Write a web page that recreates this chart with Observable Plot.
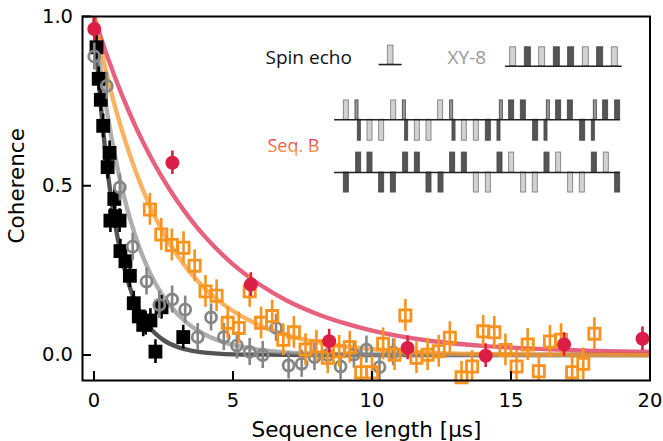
<!DOCTYPE html>
<html><head><meta charset="utf-8">
<script src="https://cdn.jsdelivr.net/npm/d3@7"></script>
<script src="https://cdn.jsdelivr.net/npm/@observablehq/plot@0.6"></script>
<style>html,body{margin:0;padding:0;background:#fff}svg{display:block}</style>
</head><body><div id="c"></div>
<script>
// measured points
const blackX=[.09,.17,.245,.33,.56,.49,.73,.59,.76,.92,.95,1.13,1.29,1.43,1.61,1.77,1.86,2.03,2.43,3.21,2.21];
const blackY=[.909,.816,.754,.677,.597,.555,.461,.397,.41,.397,.307,.277,.234,.153,.114,.089,.094,.102,.141,.053,.010];
const grayX=[.01,.46,.93,1.39,1.89,2.35,2.81,3.28,3.73,4.21,4.67,5.14,5.60,6.07,6.55,7.0,7.47,7.93,8.41,8.87,9.35,9.80,10.27,10.76];
const grayY=[.882,.795,.495,.32,.217,.148,.164,.134,.053,.111,.053,.028,.009,0,.08,-.031,-.026,-.006,0,-.034,.001,.016,-.036,.008];
const orangeX=[2.01,2.42,2.80,3.22,3.62,4.01,4.41,4.81,5.21,5.60,6.01,6.41,6.81,7.19,7.61,8.0,8.41,8.82,9.2,9.61,10.0,10.4,10.81,11.2,11.6,12.0,12.4,12.8,13.22,13.6,14.0,14.4,14.8,15.2,15.6,16.0,16.4,16.8,17.2,17.6,18.0];
const orangeY=[.43,.356,.325,.317,.264,.188,.175,.095,.08,.188,.095,.115,.045,.067,.016,.026,-.008,.011,.023,-.051,-.051,.033,.001,.117,-.008,.001,.011,.051,-.066,-.034,.07,.067,.015,-.034,.031,-.048,.04,.045,-.051,-.026,.063];
const redX=[.01,2.82,5.64,8.46,11.28,14.09,16.91,19.73];
const redY=[.963,.568,.208,.041,.021,-.002,.031,.048];
const errBlack=.035, errGray=.04, errOrange=.047, errRed=.035;
// fitted curves
const redCurveX=[0,.5,1,1.5,2,2.5,3,3.5,4,5,6,7,8,9,10,12,14,16,18,20];
const redCurveY=[1,.877,.769,.674,.591,.518,.454,.398,.349,.268,.206,.158,.122,.094,.072,.043,.027,.018,.012,.009];
const orangeCurveX=[0,.25,.5,.75,1,1.5,2,2.5,3,3.5,4,5,6,7,8,9,10,12,14,16,20];
const orangeCurveY=[1,.903,.815,.736,.665,.542,.442,.360,.294,.240,.195,.130,.086,.057,.038,.025,.017,.007,.003,.001,0];
const grayCurveX=[0,.25,.5,.75,1,1.5,2,2.5,3,3.5,4,5,6,7,8,10,20];
const grayCurveY=[1,.838,.703,.590,.494,.348,.245,.172,.121,.085,.060,.030,.015,.007,.004,.001,0];
const blackCurveX=[0,.1,.2,.3,.4,.5,.75,1,1.25,1.5,2,2.5,3,3.5,4,5,6,8,20];
const blackCurveY=[1,.882,.779,.687,.607,.535,.392,.287,.210,.153,.082,.044,.024,.013,.007,.002,.001,0,0];
// pulse schematic: start positions along the sequence, in schematic units
const r1UpLight=[265,407,548], r1UpMid=[300,442,584,733,874,1015], r1UpDark=[761,796,902,937,1043,1079];
const r1DnNarrow=[307,449,591,726,867,1009], r1DnLight=[336,371,478,513,619,655], r1DnDark=[691,833,974];
const r2UpDark=[302,336,443,478,584,619,726,867,1009], r2UpLight=[761,902,1045];
const r2DnDark=[265,371,406,513,549,1079], r2DnLight=[655,691,797,832,938,973];
const xyLight=[764,851,982,1069], xyDark=[808,895,938,1025], spinPulse=[397];
const LIGHT="#d2d2d2", MID="#9a9a9a", DARK="#555555";
const sch=u=>u/83.4+5.809;
const pulses=(starts,w,b,t,fill)=>starts.map(s=>({x1:sch(s),x2:sch(s+w),y1:b,y2:t,fill}));
const pulseData=[
 ...pulses(spinPulse,17,.858,.914,LIGHT),
 ...pulses(xyLight,18,.853,.909,LIGHT),...pulses(xyDark,18,.853,.909,DARK),
 ...pulses(r1UpLight,15,.695,.752,LIGHT),...pulses(r1UpMid,9,.695,.752,MID),...pulses(r1UpDark,15,.695,.752,DARK),
 ...pulses(r1DnNarrow,9,.695,.633,DARK),...pulses(r1DnLight,15,.695,.633,LIGHT),...pulses(r1DnDark,15,.695,.633,DARK),
 ...pulses(r2UpDark,15,.539,.598,DARK),...pulses(r2UpLight,15,.539,.598,LIGHT),
 ...pulses(r2DnDark,15,.539,.480,DARK),...pulses(r2DnLight,15,.539,.480,LIGHT)
];
const baselines=[
 {y:.858,x1:sch(371),x2:sch(440)},{y:.853,x1:sch(750),x2:sch(1100)},
 {y:.695,x1:sch(237),x2:sch(1095)},{y:.539,x1:sch(237),x2:sch(1095)}
];
const zip=(xs,ys)=>xs.map((x,i)=>({x,y:ys[i]}));
const black=zip(blackX,blackY),gray=zip(grayX,grayY),orange=zip(orangeX,orangeY),red=zip(redX,redY);
const err=(d,e,stroke,w)=>Plot.ruleX(d,{x:"x",y1:p=>p.y-e,y2:p=>p.y+e,stroke,strokeWidth:w,clip:"frame"});
const curve=(xs,ys,stroke,o)=>Plot.line(zip(xs,ys),{x:"x",y:"y",stroke,strokeWidth:4.4,strokeOpacity:o,clip:"frame",curve:"monotone-x"});
const COL={black:"#000000",gray:"#868686",orange:"#f7931e",red:"#dc1e46"};
const chart=Plot.plot({
 width:663,height:441,marginLeft:82,marginRight:13.5,marginTop:16,marginBottom:61,
 style:{fontFamily:"'DejaVu Sans',sans-serif",fontSize:"19.5px",background:"#fff",color:"#000"},
 x:{domain:[-.414,20],label:null},
 y:{domain:[-.0753,1],label:null},
 marks:[
  Plot.rect(pulseData,{x1:"x1",x2:"x2",y1:"y1",y2:"y2",fill:"fill",stroke:d=>d.fill===LIGHT?"#808080":"#4a4a4a",strokeWidth:.9}),
  Plot.ruleY(baselines,{y:"y",x1:"x1",x2:"x2",stroke:"#222",strokeWidth:1.6}),
  Plot.text(["Spin echo"],{x:6.17,y:.879,text:d=>d,textAnchor:"start",fontFamily:"'Open Sans',sans-serif",fontSize:19,fill:"#111"}),
  Plot.text(["XY-8"],{x:12.72,y:.879,text:d=>d,textAnchor:"start",fontFamily:"'Open Sans',sans-serif",fontSize:19,fill:"#999"}),
  Plot.text(["Seq. B"],{x:6.24,y:.616,text:d=>d,textAnchor:"start",fontFamily:"'Open Sans',sans-serif",fontSize:18,fill:"url(#seqb)"}),

  curve(blackCurveX,blackCurveY,"#1a1a1a",.75),
  curve(grayCurveX,grayCurveY,"#8f8f8f",.72),
  curve(redCurveX,redCurveY,COL.red,.7),
  curve(orangeCurveX,orangeCurveY,"#fa9a2c",.75),

  err(black,errBlack,COL.black,2.6),
  Plot.dot(black,{x:"x",y:"y",symbol:"square",r:7.8,fill:COL.black}),
  err(gray,errGray,COL.gray,2.6),
  Plot.dot(gray,{x:"x",y:"y",r:5.5,stroke:COL.gray,strokeWidth:2.8,fill:"none"}),
  err(orange,errOrange,COL.orange,2.6),
  Plot.dot(orange,{x:"x",y:"y",symbol:"square",r:6.3,stroke:COL.orange,strokeWidth:2.8,fill:"none"}),
  err(red,errRed,COL.red,2.6),
  Plot.dot(red,{x:"x",y:"y",r:7,fill:COL.red}),

  Plot.frame({stroke:"#000",strokeWidth:2}),
  Plot.axisX([0,5,10,15,20],{tickSize:-9,tickPadding:22,tickFormat:d=>String(d),strokeWidth:2,fontSize:19.5,label:null}),
  Plot.axisY([0,.5,1],{tickSize:-9,tickPadding:18.5,tickFormat:d=>d.toFixed(1),strokeWidth:2,fontSize:19.5,label:null}),
  Plot.text(["Sequence length [µs]"],{x:9.8,y:-.0753,dy:50,text:d=>d,fontSize:21.5,clip:false}),
  Plot.text(["Coherence"],{x:-.414,y:.5,dx:-65,rotate:-90,text:d=>d,fontSize:21.5,clip:false})
 ]
});
const defs=document.createElementNS("http://www.w3.org/2000/svg","defs");
defs.innerHTML='<linearGradient id="seqb" x1="0" y1="0" x2="0" y2="1"><stop offset="0.15" stop-color="#e0264f"/><stop offset="0.85" stop-color="#f9a13a"/></linearGradient>';
chart.prepend(defs);
document.getElementById("c").append(chart);
</script></body></html>
